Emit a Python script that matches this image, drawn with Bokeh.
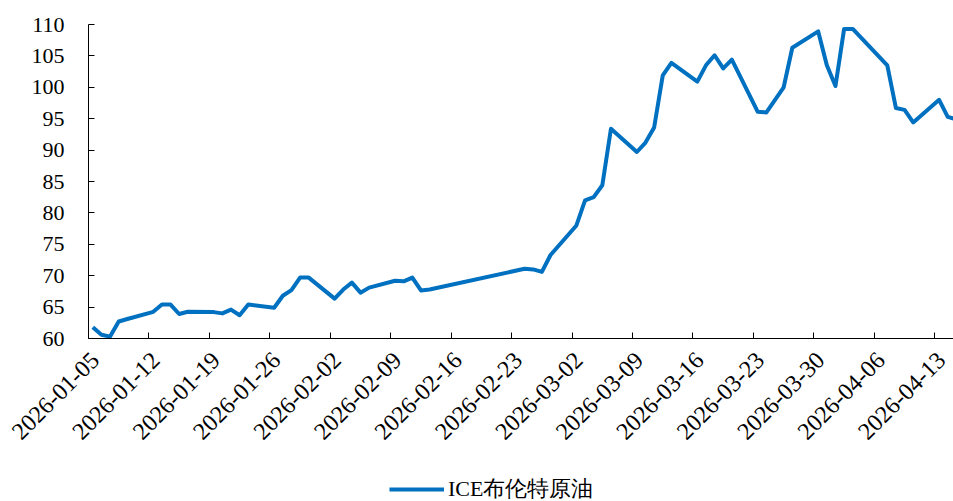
import math
import pandas as pd
from bokeh.plotting import figure
from bokeh.models import (ColumnDataSource, FixedTicker, DatetimeTickFormatter,
                          DatetimeAxis, LinearAxis, Legend, LegendItem, Range1d)
from bokeh.transform import dodge
from bokeh.embed import file_html
from bokeh.resources import INLINE

dates = [
    "2026-01-05", "2026-01-06", "2026-01-07", "2026-01-08", "2026-01-09",
    "2026-01-12", "2026-01-13", "2026-01-14", "2026-01-15", "2026-01-16",
    "2026-01-19", "2026-01-20", "2026-01-21", "2026-01-22", "2026-01-23",
    "2026-01-26", "2026-01-27", "2026-01-28", "2026-01-29", "2026-01-30",
    "2026-02-02", "2026-02-03", "2026-02-04", "2026-02-05", "2026-02-06",
    "2026-02-09", "2026-02-10", "2026-02-11", "2026-02-12", "2026-02-13",
    "2026-02-24", "2026-02-25", "2026-02-26", "2026-02-27",
    "2026-03-02", "2026-03-03", "2026-03-04", "2026-03-05", "2026-03-06",
    "2026-03-09", "2026-03-10", "2026-03-11", "2026-03-12", "2026-03-13",
    "2026-03-16", "2026-03-17", "2026-03-18", "2026-03-19", "2026-03-20",
    "2026-03-23", "2026-03-24", "2026-03-25", "2026-03-26", "2026-03-27",
    "2026-03-30", "2026-03-31", "2026-04-01", "2026-04-02", "2026-04-03",
    "2026-04-07", "2026-04-08", "2026-04-09", "2026-04-10",
    "2026-04-13", "2026-04-14", "2026-04-15",
]
brent = [
    61.8, 60.6, 60.3, 62.7, 63.1,
    64.25, 65.4, 65.4, 63.9, 64.25,
    64.2, 64.0, 64.6, 63.7, 65.4,
    64.9, 66.8, 67.7, 69.7, 69.7,
    66.35, 67.8, 68.9, 67.3, 68.1,
    69.2, 69.1, 69.7, 67.65, 67.8,
    71.1, 71.0, 70.6, 73.3,
    78.0, 82.0, 82.5, 84.4, 93.4,
    89.7, 91.2, 93.6, 101.9, 103.9,
    100.9, 103.5, 105.1, 103.0, 104.4,
    96.1, 96.0, 98.0, 100.0, 106.3,
    108.9, 103.5, 100.2, 109.3, 109.3,
    103.5, 96.7, 96.4, 94.4,
    98.0, 95.3, 94.9,
]
tick_labels = [
    "2026-01-05", "2026-01-12", "2026-01-19", "2026-01-26", "2026-02-02",
    "2026-02-09", "2026-02-16", "2026-02-23", "2026-03-02", "2026-03-09",
    "2026-03-16", "2026-03-23", "2026-03-30", "2026-04-06", "2026-04-13",
]
y_ticks = [60, 65, 70, 75, 80, 85, 90, 95, 100, 105, 110]
Y_MIN, Y_MAX = 60, 110
X_START, X_END = "2026-01-05", "2026-04-15 04:00"
series_name = "ICE布伦特原油"

LINE_COLOR = "#0070C0"
FONT = "Liberation Serif"
DAY = 24 * 3600 * 1000

def ms(s):
    return pd.Timestamp(s).value / 1e6

src = ColumnDataSource(dict(date=[ms(d) for d in dates], value=brent))

# Layout geometry (pixels): the frame covers the whole figure; the axes are
# pinned at (X_START, Y_MIN) so that their labels and the legend sit inside
# the frame area without being clipped.
W, H = 953, 501
TOP_Y, AXIS_X, AXIS_Y = 24, 88, 338
px_per_unit = (AXIS_Y - TOP_Y) / (Y_MAX - Y_MIN)
y_lo = Y_MIN - (H - AXIS_Y) / px_per_unit
y_hi = Y_MAX + TOP_Y / px_per_unit
x0, x1 = ms(X_START), ms(X_END)
x_lo = x0 - AXIS_X / (W - AXIS_X) * (x1 - x0)

p = figure(width=W, height=H, output_backend="svg", toolbar_location=None,
           x_axis_type=None, y_axis_type=None,
           x_range=Range1d(x_lo, x1), y_range=Range1d(y_lo, y_hi),
           min_border_left=0, min_border_top=0, min_border_right=0,
           min_border_bottom=0)
p.outline_line_color = None
p.background_fill_color = "white"
p.border_fill_color = "white"

r = p.line(x=dodge("date", DAY / 2), y="value", source=src,
           line_color=LINE_COLOR, line_width=4, line_join="round")

fmt = "%Y-%m-%d"
def date_fmt():
    return DatetimeTickFormatter(days=fmt, months=fmt, years=fmt, hours=fmt,
                                 hourmin=fmt, minutes=fmt, minsec=fmt,
                                 seconds=fmt, milliseconds=fmt,
                                 microseconds=fmt)

tick_ms = [ms(t) for t in tick_labels]

# x axis line + inside ticks
xa = DatetimeAxis(fixed_location=Y_MIN, bounds=(x0, x1),
                  ticker=FixedTicker(ticks=tick_ms), formatter=date_fmt())
xa.major_tick_in = 6
xa.major_tick_out = 0
xa.minor_tick_line_color = None
xa.major_label_text_alpha = 0
xa.axis_line_color = "black"
xa.major_tick_line_color = "black"
p.add_layout(xa, "below")

# date labels (slightly to the right of each tick, as in the reference)
LABEL_SHIFT = 0.8 * DAY
label_ticks = [t + LABEL_SHIFT for t in tick_ms]
xl = DatetimeAxis(fixed_location=Y_MIN, ticker=FixedTicker(ticks=label_ticks),
                  formatter=date_fmt(),
                  major_label_overrides={t: s for t, s in zip(label_ticks, tick_labels)})
xl.axis_line_color = None
xl.major_tick_line_color = None
xl.minor_tick_line_color = None
xl.major_label_orientation = math.pi / 4
xl.major_label_standoff = 12
xl.major_label_text_font = FONT
xl.major_label_text_font_size = "24px"
xl.major_label_text_color = "black"
p.add_layout(xl, "below")

# y axis
ya = LinearAxis(fixed_location=x0, bounds=(Y_MIN, Y_MAX),
                ticker=FixedTicker(ticks=y_ticks))
ya.major_tick_in = 6
ya.major_tick_out = 0
ya.minor_tick_line_color = None
ya.major_label_standoff = 24
ya.axis_line_color = "black"
ya.major_tick_line_color = "black"
ya.major_label_text_font = FONT
ya.major_label_text_font_size = "22px"
ya.major_label_text_color = "black"
p.add_layout(ya, "left")

legend = Legend(items=[LegendItem(label=series_name, renderers=[r])],
                location=(AXIS_X + 301, -3), orientation="horizontal")
legend.padding = 0
legend.margin = 0
legend.spacing = 0
legend.glyph_width = 55
legend.glyph_height = 20
legend.label_height = 20
legend.label_standoff = 4
legend.label_text_font = FONT
legend.label_text_font_size = "22px"
legend.label_text_color = "black"
legend.background_fill_alpha = 0
legend.border_line_alpha = 0
p.add_layout(legend)

open("out.html", "w").write(file_html(p, INLINE))
